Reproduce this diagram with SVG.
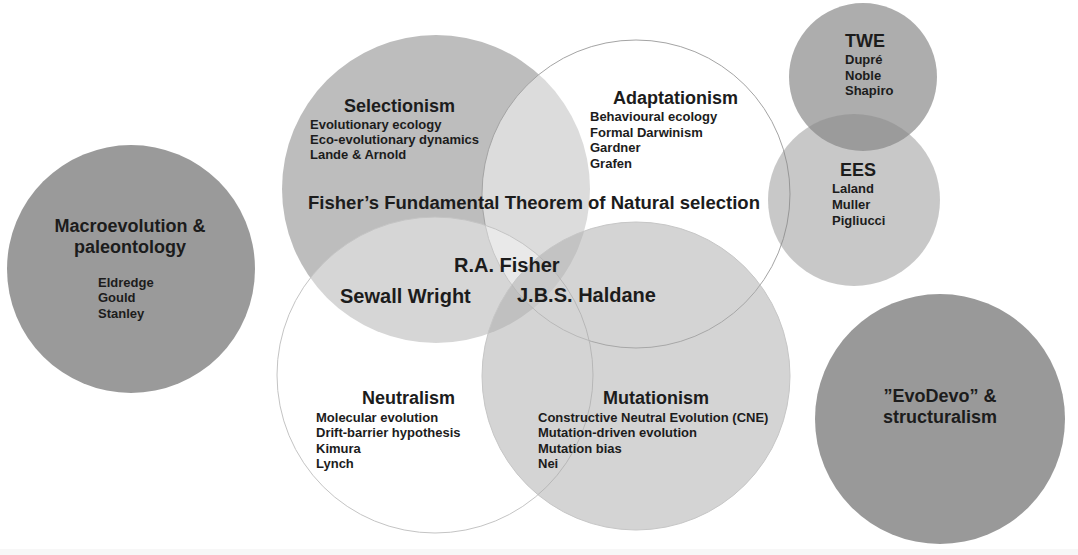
<svg xmlns="http://www.w3.org/2000/svg" width="1078" height="555" viewBox="0 0 1078 555">
<style>
text{font-family:"Liberation Sans",Arial,sans-serif;font-weight:bold;fill:#1c1c1c}
.h{font-size:18px}
.s{font-size:13px}
.b{font-size:20px}
.m{text-anchor:middle}
</style>
<rect x="0" y="0" width="1078" height="555" fill="#ffffff"/>
<rect x="0" y="549" width="1078" height="6" fill="#f7f7f7"/>
<g id="macroevolution">
<circle cx="131" cy="269" r="124" fill="#9a9a9a"/>
<text class="h m" x="130" y="232">Macroevolution &amp;</text>
<text class="h m" x="130" y="253">paleontology</text>
<text class="s" x="98" y="287">Eldredge</text>
<text class="s" x="98" y="302">Gould</text>
<text class="s" x="98" y="318">Stanley</text>
</g>
<g id="evodevo">
<circle cx="940" cy="419" r="125" fill="#999999"/>
<text class="h m" x="940" y="402">”EvoDevo” &amp;</text>
<text class="h m" x="940" y="423">structuralism</text>
</g>
<g id="selectionism">
<circle cx="436" cy="189" r="154" fill="#bdbdbd"/>
</g>
<g id="adaptationism">
<circle cx="636" cy="194" r="154" fill="#ffffff" fill-opacity="0.47" stroke="#a4a4a4" stroke-width="1"/>
</g>
<g id="neutralism">
<circle cx="435" cy="375" r="158" fill="#ffffff" fill-opacity="0.38" stroke="#c4c4c4" stroke-width="1"/>
</g>
<g id="mutationism">
<circle cx="636" cy="376" r="154" fill="#a9a9a9" fill-opacity="0.5" stroke="#c6c6c6" stroke-width="1"/>
</g>
<g id="twe">
<circle cx="863" cy="77" r="74" fill="#adadad"/>
</g>
<g id="ees">
<circle cx="854" cy="200" r="86" fill="#878787" fill-opacity="0.46"/>
</g>
<g id="labels">
<text class="h" x="344" y="112">Selectionism</text>
<text class="s" x="310" y="129">Evolutionary ecology</text>
<text class="s" x="310" y="144">Eco-evolutionary dynamics</text>
<text class="s" x="310" y="159">Lande &amp; Arnold</text>
<text class="h" x="613" y="104">Adaptationism</text>
<text class="s" x="590" y="121">Behavioural ecology</text>
<text class="s" x="590" y="137">Formal Darwinism</text>
<text class="s" x="590" y="152">Gardner</text>
<text class="s" x="590" y="168">Grafen</text>
<text class="h" x="308" y="209" textLength="452" lengthAdjust="spacingAndGlyphs">Fisher’s Fundamental Theorem of Natural selection</text>
<text class="b" x="454" y="272">R.A. Fisher</text>
<text class="b" x="340" y="303">Sewall Wright</text>
<text class="b" x="517" y="302">J.B.S. Haldane</text>
<text class="h" x="362" y="404">Neutralism</text>
<text class="s" x="316" y="422">Molecular evolution</text>
<text class="s" x="316" y="437">Drift-barrier hypothesis</text>
<text class="s" x="316" y="453">Kimura</text>
<text class="s" x="316" y="468">Lynch</text>
<text class="h" x="603" y="404">Mutationism</text>
<text class="s" x="538" y="422">Constructive Neutral Evolution (CNE)</text>
<text class="s" x="538" y="437">Mutation-driven evolution</text>
<text class="s" x="538" y="453">Mutation bias</text>
<text class="s" x="538" y="468">Nei</text>
<text class="h" x="845" y="47">TWE</text>
<text class="s" x="845" y="64">Dupré</text>
<text class="s" x="845" y="80">Noble</text>
<text class="s" x="845" y="95">Shapiro</text>
<text class="h" x="840" y="176">EES</text>
<text class="s" x="832" y="193">Laland</text>
<text class="s" x="832" y="209">Muller</text>
<text class="s" x="832" y="225">Pigliucci</text>
</g>
<g id="connectors"></g>
</svg>
